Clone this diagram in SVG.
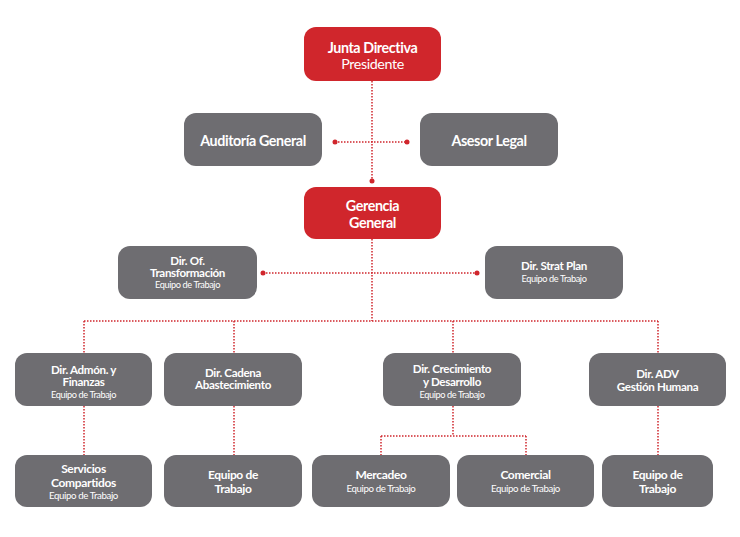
<svg xmlns="http://www.w3.org/2000/svg" width="740" height="537" viewBox="0 0 740 537">
<style>
.red{fill:#d0262c}
.gray{fill:#6e6d71}
text{font-family:Lato,"Open Sans",sans-serif;fill:#fff;text-anchor:middle}
.b{font-weight:bold}
.t14{font-size:14.3px;letter-spacing:-0.4px}
.t11{font-size:11.6px;letter-spacing:-0.35px}
.t12{font-size:12px;letter-spacing:-0.35px}
.s{font-size:9.2px;letter-spacing:-0.4px}
.s2{font-size:9.7px;letter-spacing:-0.4px}
.ln{fill:none;stroke:#d0262c;stroke-width:1.5;stroke-dasharray:1.5 1.5}
.dot{fill:#d0262c}
</style>
<rect width="740" height="537" fill="#fff"/>
<g id="connectors">
<path class="ln" d="M372 81V181"/>
<path class="ln" d="M335 142H407"/>
<circle class="dot" cx="372" cy="181" r="2.5"/>
<circle class="dot" cx="335" cy="142" r="2.5"/>
<circle class="dot" cx="407" cy="142" r="2.5"/>
<path class="ln" d="M372 239V321"/>
<path class="ln" d="M263 273H477"/>
<circle class="dot" cx="263" cy="273" r="2.5"/>
<circle class="dot" cx="477" cy="273" r="2.5"/>
<path class="ln" d="M84 321H658"/>
<path class="ln" d="M84 321V353M234 321V353M453 321V353M658 321V353"/>
<path class="ln" d="M84 406V455M234 406V455M658 406V455"/>
<path class="ln" d="M453 406V436M381 436H526M381 436V455M526 436V455"/>
</g>
<g id="junta"><rect class="red" x="304" y="27" width="137" height="54" rx="12"/><text x="372.5" y="52.5" class="b t14">Junta Directiva</text><text x="372.5" y="68.5" class="t14">Presidente</text></g>
<g id="auditoria"><rect class="gray" x="184" y="113" width="138" height="53" rx="12"/><text x="253" y="146" class="b t14">Auditoría General</text></g>
<g id="asesor"><rect class="gray" x="420" y="113" width="138" height="53" rx="12"/><text x="489" y="146" class="b t14">Asesor Legal</text></g>
<g id="gerencia"><rect class="red" x="304" y="187" width="137" height="52" rx="12"/><text x="372.5" y="211" class="b t14">Gerencia</text><text x="372.5" y="228" class="b t14">General</text></g>
<g id="transformacion"><rect class="gray" x="118" y="246" width="139" height="53" rx="12"/><text x="187.5" y="264.5" class="b t11">Dir. Of.</text><text x="187.5" y="276.5" class="b t11">Transformación</text><text x="187.5" y="288" class="s">Equipo de Trabajo</text></g>
<g id="strat"><rect class="gray" x="485" y="246" width="138" height="53" rx="12"/><text x="554" y="270" class="b t11">Dir. Strat Plan</text><text x="554" y="281.5" class="s">Equipo de Trabajo</text></g>
<g id="admon"><rect class="gray" x="15" y="353" width="137" height="53" rx="12"/><text x="83.5" y="373.5" class="b t11">Dir. Admón. y</text><text x="83.5" y="385.5" class="b t11">Finanzas</text><text x="83.5" y="397.5" class="s">Equipo de Trabajo</text></g>
<g id="cadena"><rect class="gray" x="164" y="353" width="138" height="53" rx="12"/><text x="233" y="376.5" class="b t11">Dir. Cadena</text><text x="233" y="388.5" class="b t11">Abastecimiento</text></g>
<g id="crecimiento"><rect class="gray" x="383" y="353" width="138" height="53" rx="12"/><text x="452" y="373" class="b t11">Dir. Crecimiento</text><text x="452" y="386" class="b t11">y Desarrollo</text><text x="452" y="397.5" class="s">Equipo de Trabajo</text></g>
<g id="adv"><rect class="gray" x="589" y="353" width="137" height="53" rx="12"/><text x="657.5" y="378" class="b t11">Dir. ADV</text><text x="657.5" y="391" class="b t11">Gestión Humana</text></g>
<g id="servicios"><rect class="gray" x="15" y="455" width="137" height="52" rx="12"/><text x="83.5" y="473" class="b t12">Servicios</text><text x="83.5" y="486.5" class="b t12">Compartidos</text><text x="83.5" y="498.5" class="s2">Equipo de Trabajo</text></g>
<g id="equipo1"><rect class="gray" x="164" y="455" width="138" height="52" rx="12"/><text x="233" y="479" class="b t12">Equipo de</text><text x="233" y="492.5" class="b t12">Trabajo</text></g>
<g id="mercadeo"><rect class="gray" x="312" y="455" width="138" height="52" rx="12"/><text x="381" y="479" class="b t12">Mercadeo</text><text x="381" y="491.5" class="s2">Equipo de Trabajo</text></g>
<g id="comercial"><rect class="gray" x="457" y="455" width="137" height="52" rx="12"/><text x="525.5" y="479" class="b t12">Comercial</text><text x="525.5" y="491.5" class="s2">Equipo de Trabajo</text></g>
<g id="equipo2"><rect class="gray" x="602" y="455" width="111" height="52" rx="12"/><text x="657.5" y="479" class="b t12">Equipo de</text><text x="657.5" y="492.5" class="b t12">Trabajo</text></g>
</svg>
